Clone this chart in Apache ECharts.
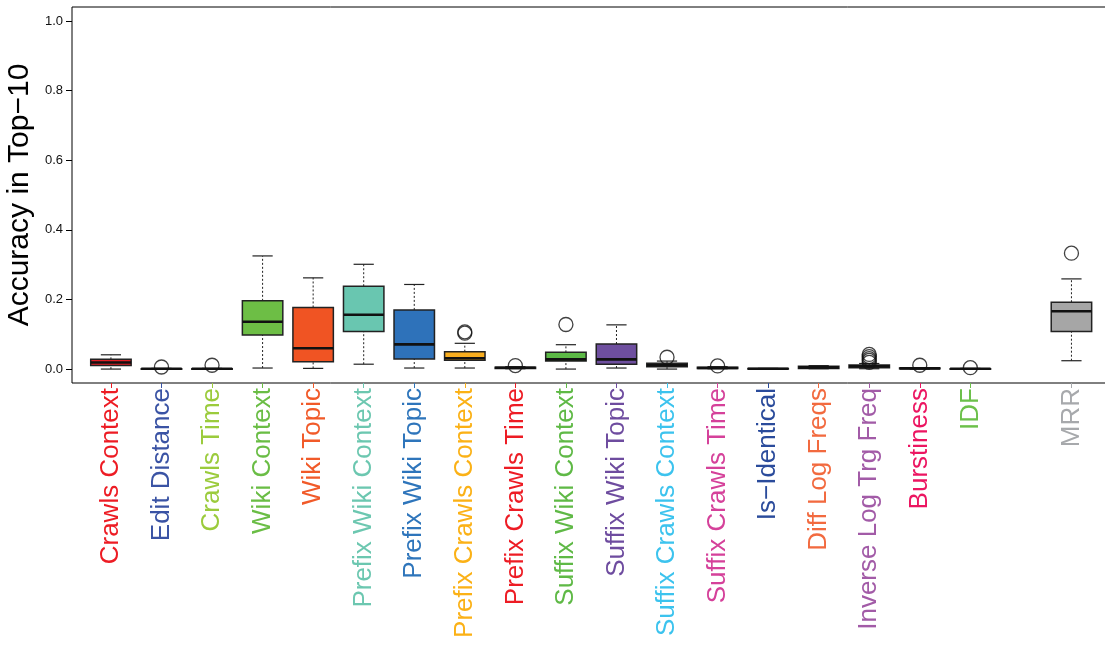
<!DOCTYPE html>
<html>
<head>
<meta charset="utf-8">
<script src="https://cdn.jsdelivr.net/npm/echarts@6/dist/echarts.min.js"></script>
<style>
  html, body { margin: 0; padding: 0; background: #ffffff; }
  #chart { width: 1105px; height: 646px; }
</style>
</head>
<body>
<div id="chart"></div>
<script>
// Feature names, in plotting order (MRR is set apart after a gap)
const categories = [
  'Crawls Context', 'Edit Distance', 'Crawls Time', 'Wiki Context', 'Wiki Topic',
  'Prefix Wiki Context', 'Prefix Wiki Topic', 'Prefix Crawls Context', 'Prefix Crawls Time',
  'Suffix Wiki Context', 'Suffix Wiki Topic', 'Suffix Crawls Context', 'Suffix Crawls Time',
  'Is\u2212Identical', 'Diff Log Freqs', 'Inverse Log Trg Freq', 'Burstiness', 'IDF', 'MRR'
];

// Five-number summaries per feature
const lowWhisker  = [0.000, 0.000, 0.000, 0.003, 0.002, 0.014, 0.003, 0.003, 0.001, 0.000, 0.003, 0.000, 0.001, 0.000, 0.001, 0.001, 0.000, 0.000, 0.024];
const lowerQuart  = [0.010, 0.000, 0.000, 0.098, 0.021, 0.108, 0.029, 0.025, 0.002, 0.023, 0.014, 0.007, 0.002, 0.001, 0.002, 0.004, 0.001, 0.000, 0.108];
const medians     = [0.019, 0.001, 0.001, 0.136, 0.060, 0.156, 0.071, 0.031, 0.004, 0.028, 0.028, 0.011, 0.003, 0.001, 0.005, 0.008, 0.002, 0.001, 0.166];
const upperQuart  = [0.028, 0.001, 0.001, 0.196, 0.177, 0.238, 0.170, 0.050, 0.005, 0.048, 0.072, 0.017, 0.005, 0.002, 0.008, 0.012, 0.003, 0.001, 0.192];
const highWhisker = [0.041, 0.002, 0.002, 0.325, 0.262, 0.301, 0.243, 0.074, 0.007, 0.070, 0.127, 0.023, 0.007, 0.002, 0.010, 0.016, 0.004, 0.002, 0.259];

// Points beyond the whiskers
const outliers = [
  [], [0.006], [0.011], [], [], [], [], [0.103, 0.107], [0.010], [0.128], [], [0.034], [0.009],
  [], [], [0.042, 0.036, 0.030, 0.025, 0.019], [0.011], [0.004], [0.333]
];

// y-axis tick labels
const yTicks = [0.0, 0.2, 0.4, 0.6, 0.8, 1.0];

// Colours: axis labels / ticks and box fills
const labelColors = ['#ED1C24', '#3A53A4', '#9BCB3C', '#6ABD45', '#F15A29', '#6CC7B0', '#2E75BB', '#FBB116', '#ED1C24', '#5FB946', '#6E4C9F', '#3CC3EE', '#D5419A', '#2A4B9B', '#F26A3F', '#A25BA7', '#EC1561', '#6CC04A', '#A7A9AC'];
const boxColors   = ['#E31E26', '#3A53A4', '#9BCB3C', '#6DBE45', '#F05423', '#69C6B0', '#2E72BA', '#F9AE1E', '#ED1C24', '#5CB946', '#6E4F9F', '#3E93A6', '#D5419A', '#2A4B9B', '#F26A3F', '#A25BA7', '#EC1561', '#6CC04A', '#A6A6A6'];

// Slot on the x scale: MRR sits one slot further right than the features
const GAP_AFTER = 17;
const slotOf = i => i + (i > GAP_AFTER ? 1 : 0);

const X_MIN = -0.77, X_MAX = 20.0;
const BOX_WEX = 0.8;      // box width in slot units
const STAPLE = 0.5;       // whisker cap width relative to box
const FONT = '"Liberation Sans", Arial, Helvetica, sans-serif';

const boxData = categories.map((_, i) => [slotOf(i), lowWhisker[i], lowerQuart[i], medians[i], upperQuart[i], highWhisker[i]]);
const outlierData = [];
outliers.forEach((list, i) => list.forEach(v => outlierData.push([slotOf(i), v])));

function renderBox(params, api) {
  const x = api.value(0);
  const pLo = api.coord([x, api.value(1)]);
  const pQ1 = api.coord([x, api.value(2)]);
  const pMd = api.coord([x, api.value(3)]);
  const pQ3 = api.coord([x, api.value(4)]);
  const pHi = api.coord([x, api.value(5)]);
  const bw = api.size([BOX_WEX, 0])[0];
  const half = bw / 2;
  const capHalf = bw * STAPLE / 2;
  const cx = pMd[0];
  const whisker = { stroke: '#222', lineWidth: 1, lineDash: [2, 2] };
  const cap = { stroke: '#222', lineWidth: 1.2 };
  return {
    type: 'group',
    children: [
      { type: 'line', shape: { x1: cx, y1: pQ3[1], x2: cx, y2: pHi[1] }, style: whisker },
      { type: 'line', shape: { x1: cx, y1: pLo[1], x2: cx, y2: pQ1[1] }, style: whisker },
      { type: 'line', shape: { x1: cx - capHalf, y1: pHi[1], x2: cx + capHalf, y2: pHi[1] }, style: cap },
      { type: 'line', shape: { x1: cx - capHalf, y1: pLo[1], x2: cx + capHalf, y2: pLo[1] }, style: cap },
      {
        type: 'rect',
        shape: { x: cx - half, y: pQ3[1], width: bw, height: Math.max(pQ1[1] - pQ3[1], 0.5) },
        style: { fill: boxColors[params.dataIndex], stroke: '#222', lineWidth: 1.5 }
      },
      { type: 'line', shape: { x1: cx - half, y1: pMd[1], x2: cx + half, y2: pMd[1] }, style: { stroke: '#111', lineWidth: 2.6 } }
    ]
  };
}

// One bottom axis per feature so each tick and label carries its own colour
const xAxes = [{ type: 'value', min: X_MIN, max: X_MAX, show: false, axisLine: { onZero: false } }];
categories.forEach((name, i) => {
  xAxes.push({
    type: 'value', min: X_MIN, max: X_MAX, position: 'bottom', gridIndex: 0,
    axisLine: { show: false, onZero: false },
    splitLine: { show: false },
    axisTick: { show: true, length: 5, customValues: [slotOf(i)], lineStyle: { color: labelColors[i], width: 1 } },
    axisLabel: {
      customValues: [slotOf(i)], formatter: () => name, rotate: 90, margin: 5,
      color: labelColors[i], fontSize: 26, fontFamily: FONT
    }
  });
});

const option = {
  animation: false,
  backgroundColor: '#ffffff',
  grid: {
    left: 72, top: 7, right: -17, bottom: 263,
    show: true, borderColor: '#000', borderWidth: 1, backgroundColor: 'transparent',
    containLabel: false, outerBoundsMode: 'none'
  },
  xAxis: xAxes,
  yAxis: {
    type: 'value', min: -0.04, max: 1.04, position: 'left',
    axisLine: { show: false, onZero: false },
    splitLine: { show: false },
    axisTick: { show: true, length: 6, customValues: yTicks, lineStyle: { color: '#000', width: 1 } },
    axisLabel: { customValues: yTicks, formatter: v => v.toFixed(1), fontSize: 13, color: '#111', margin: 9, fontFamily: FONT },
    name: 'Accuracy in Top\u221210', nameLocation: 'middle', nameGap: 37, nameMoveOverlap: false,
    nameTextStyle: { fontSize: 30, color: '#000', fontFamily: FONT }
  },
  series: [
    {
      type: 'custom', xAxisIndex: 0, yAxisIndex: 0,
      renderItem: renderBox,
      encode: { x: 0, y: [1, 2, 3, 4, 5] },
      data: boxData, z: 2
    },
    {
      type: 'scatter', xAxisIndex: 0, yAxisIndex: 0,
      symbol: 'circle', symbolSize: 14,
      itemStyle: { color: 'rgba(0,0,0,0)', borderColor: '#111', borderWidth: 1.3 },
      data: outlierData, z: 3
    }
  ]
};

const chart = echarts.init(document.getElementById('chart'), null, { renderer: 'canvas' });
chart.setOption(option);
</script>
</body>
</html>
